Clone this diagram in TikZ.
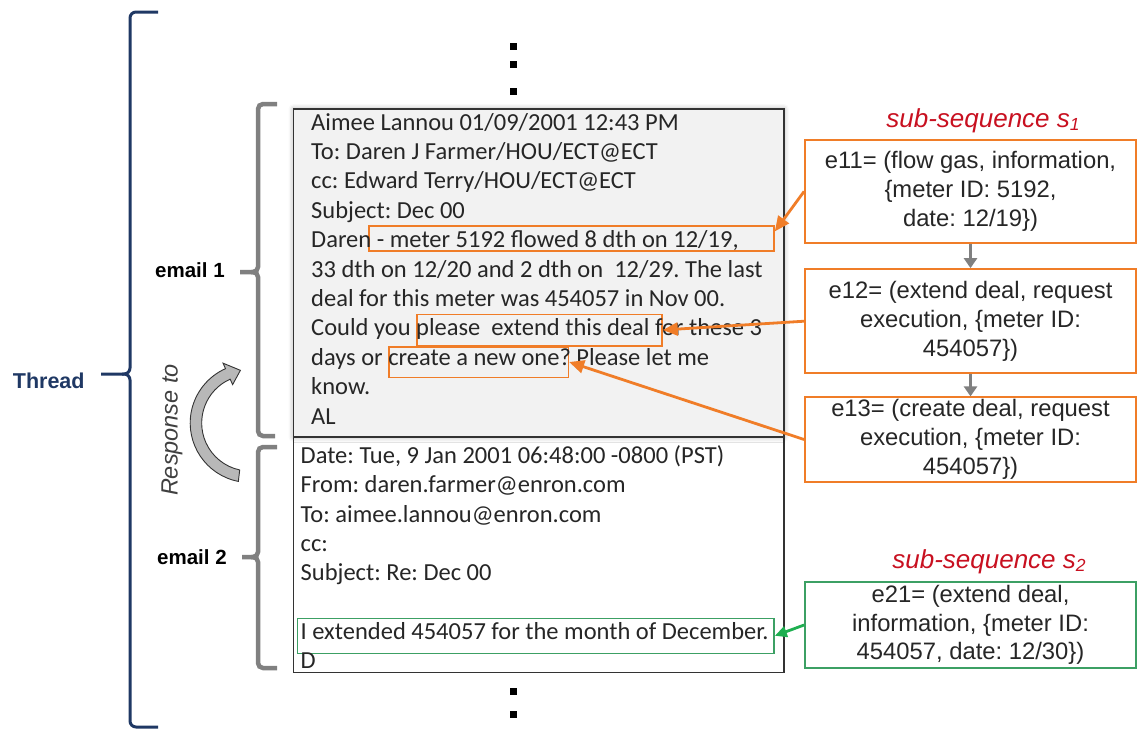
\documentclass[tikz,border=0pt]{standalone}
\usepackage{fontspec}
\setmainfont{Liberation Sans}
\newfontfamily\calfont{Carlito}
\usetikzlibrary{arrows.meta,shadows.blur}
\definecolor{navy}{RGB}{31,56,100}
\definecolor{orgc}{RGB}{240,125,40}
\definecolor{grnbox}{RGB}{60,160,100}
\definecolor{grnarr}{RGB}{30,175,80}
\definecolor{subred}{RGB}{200,16,32}
\definecolor{mailgray}{RGB}{242,242,242}
\definecolor{bracegray}{RGB}{128,128,128}
\frenchspacing
\begin{document}
\begin{tikzpicture}[x=1pt,y=-1pt,
  mailbox/.style={draw=black!80, line width=1.6pt, inner sep=0, minimum width=490.5pt},
  mailtext/.style={font=\calfont\fontsize{24.5}{29.4}\selectfont, anchor=base west, inner sep=0, text=black!85},
  hl/.style={draw=orgc, line width=1.6pt, inner sep=0},
  hlg/.style={draw=grnbox, line width=1.6pt, inner sep=0},
  evbox/.style={draw=orgc, line width=1.8pt, fill=white, minimum width=331pt, inner sep=0,
    align=center, text=black!85, font=\fontsize{23.8}{28.8}\selectfont},
  evgbox/.style={evbox, draw=grnbox},
  link/.style={orgc, line width=2.8pt, -{Triangle[length=15pt,width=13pt]}},
  glink/.style={grnarr, line width=2.8pt, -{Triangle[length=12pt,width=11pt]}},
  seqarrow/.style={bracegray, line width=3pt, -{Triangle[length=10pt,width=13pt]}},
  threadbrace/.style={navy, line width=3pt, rounded corners=6pt},
  mailbrace/.style={bracegray, line width=4.5pt, rounded corners=5pt},
  sublabel/.style={subred, anchor=base, inner sep=0, font=\itshape\fontsize{26}{26}\selectfont},
  sidelabel/.style={anchor=base west, inner sep=0, font=\bfseries\fontsize{20.5}{20.5}\selectfont}
]
\useasboundingbox (0,0) rectangle (1137,734);

% ---- ellipsis marks above and below the thread ----
\foreach \yy in {46,64,91,691,714}
  \fill (509.5,\yy-3.5) rectangle (516.5,\yy+3.5);

% ---- the two emails ----
\node[mailbox, fill=white, minimum height=235.5pt] (mail2) at (538.75,554.75) {};
\node[mailbox, fill=mailgray, minimum height=328pt,
      blur shadow={shadow xshift=0pt, shadow yshift=0pt, shadow blur radius=5pt, shadow opacity=35}]
      (mail1) at (538.75,273) {};

% highlighted phrases
\node[hl, minimum width=405pt, minimum height=25pt] (h1) at (571.5,238.5) {};
\node[hl, minimum width=245pt, minimum height=31.4pt] (h2) at (539.5,330) {};
\node[hl, minimum width=179.3pt, minimum height=30.6pt] (h3) at (478.7,362) {};
\node[hlg, minimum width=476.7pt, minimum height=35pt] (g1) at (535.7,635.8) {};

% email 1 text
\node[mailtext] (a0) at (311,130.0) {Aimee Lannou 01/09/2001 12:43 PM};
\node[mailtext] (a1) at (311,159.4) {To: Daren J Farmer/HOU/ECT@ECT};
\node[mailtext] (a2) at (311,188.8) {cc: Edward Terry/HOU/ECT@ECT};
\node[mailtext] (a3) at (311,218.2) {Subject: Dec 00};
\node[mailtext] (a4) at (311,247.6) {Daren - meter 5192 flowed 8 dth on 12/19,};
\node[mailtext] (a5) at (311,277.0) {33 dth on 12/20 and 2 dth on\ \ 12/29. The last};
\node[mailtext] (a6) at (311,306.4) {deal for this meter was 454057 in Nov 00.};
\node[mailtext] (a7) at (311,335.8) {Could you please\ \ extend this deal for these 3};
\node[mailtext] (a8) at (311,365.2) {days or create a new one? Please let me};
\node[mailtext] (a9) at (311,394.6) {know.};
\node[mailtext] (a10) at (311,424.0) {AL};

% email 2 text
\node[mailtext] (b0) at (300.5,463.3) {Date: Tue, 9 Jan 2001 06:48:00 -0800 (PST)};
\node[mailtext] (b1) at (300.5,492.6) {From: daren.farmer@enron.com};
\node[mailtext] (b2) at (300.5,522.0) {To: aimee.lannou@enron.com};
\node[mailtext] (b3) at (300.5,551.4) {cc:};
\node[mailtext] (b4) at (300.5,580.8) {Subject: Re: Dec 00};
\node[mailtext] (b6) at (300.5,639.5) {I extended 454057 for the month of December.};
\node[mailtext] (b7) at (300.5,668.9) {D};

% ---- braces ----
\draw[threadbrace] (158,12) -- (130,12) -- (130,374) -- (101,374);
\draw[threadbrace] (122,374) -- (130,374) -- (130,727) -- (158,727);
\node[anchor=base west, inner sep=0, text=navy, font=\bfseries\fontsize{21.5}{21.5}\selectfont]
  (thread) at (12.7,388) {Thread};

\draw[mailbrace] (277,104) -- (258,104) -- (258,272) -- (240,272);
\draw[mailbrace] (251,272) -- (258,272) -- (258,436) -- (275,436);
\node[sidelabel] (lab1) at (155,277) {email 1};

\draw[mailbrace] (277,447) -- (258,447) -- (258,557) -- (242,557);
\draw[mailbrace] (251,557) -- (258,557) -- (258,668) -- (277,668);
\node[sidelabel] (lab2) at (157,564) {email 2};

% ---- reply relation ----
\node[rotate=90, inner sep=0, text=black!75, font=\itshape\fontsize{23.5}{23.5}\selectfont]
  (resp) at (172,430) {Response to};
\begin{scope}[shift={(249.7,423)}, y=1pt]
  \filldraw[fill=black!28, draw=black!80, line width=0.9pt]
    (259:59.5) arc[start angle=259, end angle=114, radius=59.5]
    -- (114:65.5) -- (100:53.5) -- (114:42)
    -- (114:48) arc[start angle=114, end angle=258, radius=48] -- cycle;
\end{scope}

% ---- event sub-sequences ----
\node[sublabel] (s1) at (983,127) {sub-sequence s\raisebox{-3pt}{\fontsize{17.5}{17.5}\selectfont 1}};
\node[evbox, minimum height=102.7pt] (e11) at (970.5,191.4)
  {e11= (flow gas, information,\\ \{meter ID: 5192,\\ date: 12/19\})};
\node[evbox, minimum height=104.3pt] (e12) at (970.5,321.2)
  {e12= (extend deal, request\\ execution, \{meter ID:\\ 454057\})};
\node[evbox, minimum height=84.4pt] (e13) at (970.5,439.5)
  {e13= (create deal, request\\ execution, \{meter ID:\\ 454057\})};

\node[sublabel] (s2) at (989,568) {sub-sequence s\raisebox{-3pt}{\fontsize{17.5}{17.5}\selectfont 2}};
\node[evgbox, minimum height=86.6pt] (e21) at (970.5,625)
  {e21= (extend deal,\\ information, \{meter ID:\\ 454057, date: 12/30\})};

\draw[seqarrow] (e11.south) -- (e12.north);
\draw[seqarrow] (e12.south) -- (e13.north);

% ---- links from events to the phrases they come from ----
\draw[link] (e11.west) -- (h1.2);
\draw[link] (e12.west) -- (h2.east);
\draw[link] (e13.west) -- (h3.east);
\draw[glink] (e21.west) -- (g1.east);
\end{tikzpicture}
\end{document}
